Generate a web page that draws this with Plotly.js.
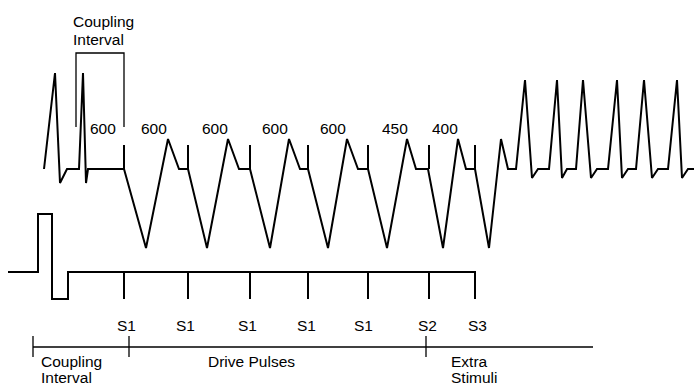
<!DOCTYPE html>
<html>
<head>
<meta charset="utf-8">
<script src="https://cdn.plot.ly/plotly-3.0.1.min.js"></script>
<style>html,body{margin:0;padding:0;background:#fff;}#chart{width:694px;height:385px;}</style>
</head>
<body>
<div id="chart"></div>
<script>
// ---- Schematic data (diagram units) ----
// Surface ECG-like waveform
const ecgX = [44,55,60,67,79,83,86,88,124,
  146,168,179,188,
  207,228,239,250,
  270,289,300,308,
  328,347,358,368,
  387,407,416,428,
  443,458,466,475,
  489,501,508,516,
  525,532,538,549,
  557,562,567,576,
  583,591,597,608,
  617,622,628,636,
  644,652,658,668,
  677,682,688,694];
const ecgY = [169,73,183,169,169,73,183,169,169,
  248,139,169,169,
  248,139,169,169,
  248,139,169,169,
  248,139,169,169,
  248,139,169,169,
  248,139,169,169,
  248,139,169,169,
  80,178,169,169,
  80,178,169,169,
  80,178,169,169,
  80,178,169,169,
  80,178,169,169,
  80,178,169,169];

// Stimulus times and labels
const stimX = [124,188,250,308,368,429,475];
const stimLabels = ['S1','S1','S1','S1','S1','S2','S3'];
const stimLabelX = [126,185,247,306,363,427,477];
const ecgMarkTop = 145, ecgMarkBase = 169;

// Coupling-interval values shown above the waveform
const intervalLabels = ['600','600','600','600','600','450','400'];
const intervalLabelX = [103,154,215,275,333,395,445];

// Pacing channel trace
const paceX = [8,38,38,52,52,68,68,475,475];
const paceY = [272,272,214,214,299,299,272,272,299];
const paceMarkBase = 272, paceMarkBottom = 299;

// Coupling interval bracket (top)
const bracketX = [76,76,124,124];
const bracketY = [127,53,53,127];

// Timeline (bottom)
const timelineX = [33,593];
const timelineY = 347;
const timelineTicks = [33,129,426];
const tickTop = 336, tickBottom = 357;

// Bottom phase labels
const phaseLabels = [['Coupling','Interval'],['Drive Pulses'],['Extra','Stimuli']];
const phaseLabelX = [40,207,450];

// ---- Build traces ----
const black = '#000';
function segs(xs, y0, y1){
  const x=[], y=[];
  xs.forEach(v=>{x.push(v,v,null); y.push(y0,y1,null);});
  return {x,y};
}
const topMarks = segs(stimX, ecgMarkTop, ecgMarkBase);
const botMarks = segs(stimX.slice(0,6), paceMarkBase, paceMarkBottom);
const tl = segs(timelineTicks, tickTop, tickBottom);

const traces = [
  {x: ecgX, y: ecgY, mode:'lines', line:{color:black, width:2}},
  {x: topMarks.x, y: topMarks.y, mode:'lines', line:{color:black, width:2}},
  {x: paceX, y: paceY, mode:'lines', line:{color:black, width:2}},
  {x: botMarks.x, y: botMarks.y, mode:'lines', line:{color:black, width:2}},
  {x: bracketX, y: bracketY, mode:'lines', line:{color:black, width:1.3}},
  {x: timelineX, y: [timelineY,timelineY], mode:'lines', line:{color:black, width:1.3}},
  {x: tl.x, y: tl.y, mode:'lines', line:{color:black, width:1.3}}
];

const font = {family:'Liberation Sans, Arial, sans-serif', size:15.5, color:black};
const ann = [];
function A(text,x,y,xanchor){ann.push({text, x, y, xref:'x', yref:'y', showarrow:false, xanchor:xanchor||'center', yanchor:'middle', borderpad:0, font});}
A('Coupling',72,21,'left');
A('Interval',72,39,'left');
intervalLabels.forEach((t,i)=>A(t,intervalLabelX[i],128));
stimLabels.forEach((t,i)=>A(t,stimLabelX[i],325));
phaseLabels.forEach((lines,i)=>{
  lines.forEach((t,j)=>A(t,phaseLabelX[i], j===0?361:377,'left'));
});

const layout = {
  width:694, height:385,
  margin:{l:0,r:0,t:0,b:0},
  paper_bgcolor:'#fff', plot_bgcolor:'#fff',
  showlegend:false,
  xaxis:{range:[0,694], visible:false, fixedrange:true},
  yaxis:{range:[385,0], visible:false, fixedrange:true},
  annotations: ann
};
Plotly.newPlot('chart', traces, layout, {staticPlot:true, displayModeBar:false});
</script>
</body>
</html>
